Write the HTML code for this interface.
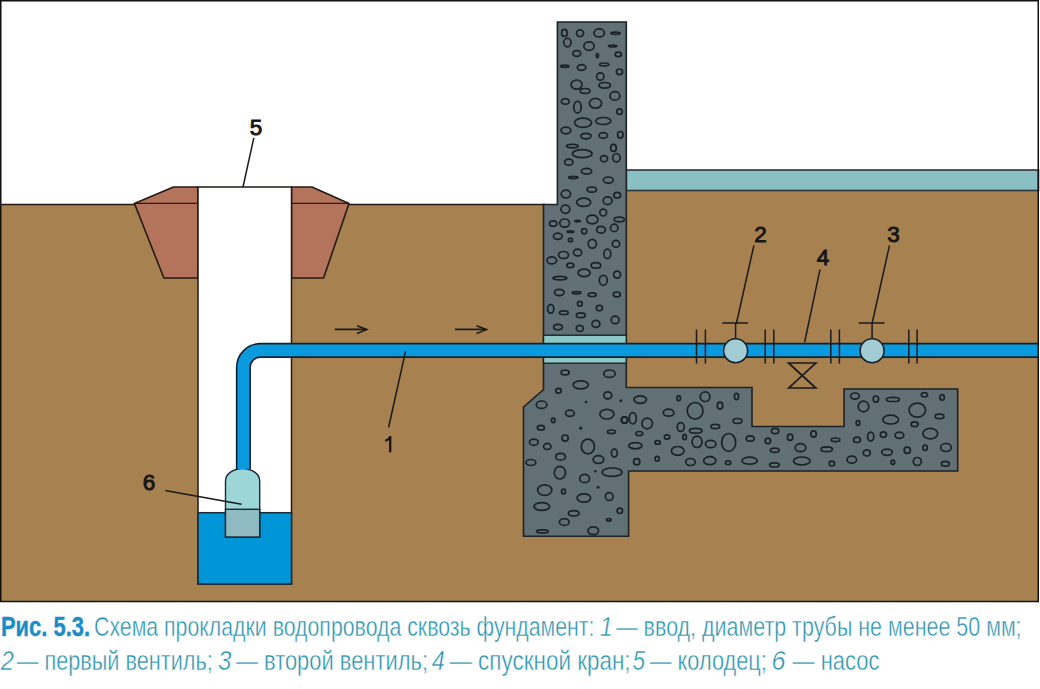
<!DOCTYPE html>
<html><head><meta charset="utf-8">
<style>
html,body{margin:0;padding:0;background:#fff;}
body{width:1040px;height:689px;overflow:hidden;}
svg{display:block;}
</style></head><body>
<svg width="1040" height="689" viewBox="0 0 1040 689">
<rect x="0" y="0" width="1040" height="689" fill="#fff"/>
<!-- ground -->
<polygon points="0,204.5 557.4,204.5 557.4,190.5 1038.5,190.5 1038.5,601.5 0,601.5" fill="#a78250"/>
<line x1="0" y1="204.5" x2="545" y2="204.5" stroke="#1f1a14" stroke-width="1.4"/>
<!-- floor slab -->
<rect x="626.3" y="170" width="412.2" height="20.5" fill="#8abfc3" stroke="#2a3438" stroke-width="1.6"/>
<!-- clay mound -->
<polygon points="173.5,187 198,187 198,278 163.9,278 134.4,203.4" fill="#b4745c" stroke="#231a16" stroke-width="1.6" stroke-linejoin="round"/>
<polygon points="291.5,187 312,187 349,203.4 323.6,278 291.5,278" fill="#b4745c" stroke="#231a16" stroke-width="1.6" stroke-linejoin="round"/>
<line x1="134.4" y1="203.4" x2="198" y2="203.4" stroke="#231a16" stroke-width="1.4"/>
<line x1="291.5" y1="203.4" x2="349" y2="203.4" stroke="#231a16" stroke-width="1.4"/>
<!-- well -->
<rect x="198" y="187" width="93.5" height="397" fill="#fff" stroke="#1f1a14" stroke-width="1.5"/>
<rect x="198" y="512.7" width="93.5" height="71.3" fill="#0095d6" stroke="#1a2a36" stroke-width="1.5"/>
<!-- pump -->
<path d="M225.5,537 L225.5,481 A17.1,12.5 0 0 1 259.7,481 L259.7,537 Z" fill="#9cd6d6" stroke="#1a2a36" stroke-width="1.4"/>
<rect x="225.5" y="509.3" width="34.2" height="27.7" fill="#8fbac2" stroke="#1a2a36" stroke-width="1.4"/>
<!-- concrete -->
<polygon points="557.4,22 626.3,22 626.3,387.5 752,387.5 752,426.5 844,426.5 844,389 957.7,389 957.7,471 628.6,471 628.6,536.3 523.5,536.3 523.5,407 543.5,389.7 543.5,204.5 557.4,204.5" fill="#617075" stroke="#1c2226" stroke-width="1.6" stroke-linejoin="miter"/>
<g fill="none" stroke="#1a2226" stroke-width="1.7">
<ellipse cx="564.4" cy="32.9" rx="2.80" ry="3.50"/>
<ellipse cx="580.0" cy="33.2" rx="3.50" ry="3.30"/>
<ellipse cx="599.2" cy="32.9" rx="5.20" ry="4.00"/>
<ellipse cx="615.5" cy="33.2" rx="4.60" ry="1.10"/>
<ellipse cx="567.4" cy="42.5" rx="3.70" ry="4.30"/>
<ellipse cx="589.0" cy="46.1" rx="5.20" ry="4.30"/>
<ellipse cx="612.7" cy="46.1" rx="4.20" ry="0.90"/>
<ellipse cx="576.8" cy="53.5" rx="4.00" ry="2.80"/>
<ellipse cx="597.4" cy="55.5" rx="1.10" ry="2.00"/>
<ellipse cx="618.3" cy="54.4" rx="3.10" ry="2.20"/>
<ellipse cx="564.8" cy="66.3" rx="4.20" ry="1.10"/>
<ellipse cx="581.6" cy="67.5" rx="4.30" ry="2.80"/>
<ellipse cx="604.2" cy="64.4" rx="4.60" ry="1.40"/>
<ellipse cx="619.5" cy="71.8" rx="3.10" ry="2.80"/>
<ellipse cx="600.3" cy="76.5" rx="3.70" ry="3.70"/>
<ellipse cx="576.6" cy="84.6" rx="5.50" ry="4.60"/>
<ellipse cx="585.1" cy="90.9" rx="4.90" ry="2.40"/>
<ellipse cx="604.7" cy="85.3" rx="5.70" ry="2.80"/>
<ellipse cx="614.9" cy="95.9" rx="5.00" ry="4.30"/>
<ellipse cx="565.3" cy="101.4" rx="4.00" ry="2.80"/>
<ellipse cx="577.5" cy="107.2" rx="3.70" ry="5.90"/>
<ellipse cx="595.5" cy="103.3" rx="6.10" ry="4.90"/>
<ellipse cx="619.5" cy="111.6" rx="2.80" ry="2.80"/>
<ellipse cx="583.0" cy="122.7" rx="8.50" ry="4.60"/>
<ellipse cx="603.3" cy="121.0" rx="7.60" ry="3.50"/>
<ellipse cx="565.9" cy="130.5" rx="4.90" ry="3.30"/>
<ellipse cx="585.9" cy="136.1" rx="5.20" ry="2.80"/>
<ellipse cx="603.3" cy="135.4" rx="4.20" ry="2.80"/>
<ellipse cx="620.3" cy="134.8" rx="2.80" ry="3.30"/>
<ellipse cx="572.4" cy="146.1" rx="5.90" ry="1.70"/>
<ellipse cx="582.2" cy="153.7" rx="9.80" ry="4.00"/>
<ellipse cx="613.5" cy="147.9" rx="2.80" ry="3.50"/>
<ellipse cx="604.0" cy="158.7" rx="3.50" ry="3.10"/>
<ellipse cx="616.4" cy="157.7" rx="3.70" ry="4.20"/>
<ellipse cx="568.8" cy="162.2" rx="4.20" ry="3.10"/>
<ellipse cx="586.5" cy="171.2" rx="5.20" ry="2.80"/>
<ellipse cx="573.3" cy="177.5" rx="4.60" ry="1.10"/>
<ellipse cx="608.3" cy="180.1" rx="4.90" ry="3.10"/>
<ellipse cx="591.8" cy="189.6" rx="4.70" ry="2.60"/>
<ellipse cx="565.9" cy="194.1" rx="4.70" ry="3.90"/>
<ellipse cx="583.7" cy="202.3" rx="7.10" ry="4.10"/>
<ellipse cx="617.2" cy="195.2" rx="3.40" ry="2.80"/>
<ellipse cx="607.6" cy="200.7" rx="4.40" ry="3.90"/>
<ellipse cx="565.4" cy="209.2" rx="4.40" ry="4.10"/>
<ellipse cx="603.2" cy="212.6" rx="3.40" ry="3.40"/>
<ellipse cx="553.2" cy="223.6" rx="3.70" ry="2.80"/>
<ellipse cx="564.6" cy="223.1" rx="4.90" ry="4.10"/>
<ellipse cx="577.6" cy="221.1" rx="2.80" ry="0.80"/>
<ellipse cx="592.3" cy="219.5" rx="5.70" ry="4.40"/>
<ellipse cx="619.2" cy="219.5" rx="5.10" ry="2.30"/>
<ellipse cx="570.5" cy="231.7" rx="3.40" ry="0.80"/>
<ellipse cx="584.2" cy="231.2" rx="2.60" ry="2.60"/>
<ellipse cx="601.0" cy="229.7" rx="4.40" ry="3.40"/>
<ellipse cx="614.2" cy="227.9" rx="3.70" ry="3.70"/>
<ellipse cx="557.8" cy="236.3" rx="4.40" ry="3.10"/>
<ellipse cx="570.5" cy="239.9" rx="2.00" ry="1.80"/>
<ellipse cx="592.3" cy="243.7" rx="4.10" ry="4.40"/>
<ellipse cx="616.0" cy="243.7" rx="3.70" ry="3.40"/>
<ellipse cx="563.5" cy="255.0" rx="5.00" ry="3.50"/>
<ellipse cx="577.6" cy="252.5" rx="4.10" ry="3.40"/>
<ellipse cx="607.3" cy="253.9" rx="3.50" ry="4.80"/>
<ellipse cx="551.8" cy="260.4" rx="4.80" ry="3.50"/>
<ellipse cx="570.3" cy="265.4" rx="3.50" ry="2.20"/>
<ellipse cx="595.9" cy="265.4" rx="4.80" ry="2.70"/>
<ellipse cx="584.1" cy="272.9" rx="6.10" ry="3.70"/>
<ellipse cx="559.9" cy="278.1" rx="7.00" ry="1.80"/>
<ellipse cx="603.3" cy="280.3" rx="4.00" ry="5.00"/>
<ellipse cx="617.1" cy="274.6" rx="3.50" ry="3.50"/>
<ellipse cx="559.3" cy="292.5" rx="4.80" ry="3.10"/>
<ellipse cx="576.6" cy="292.8" rx="4.40" ry="1.10"/>
<ellipse cx="592.2" cy="294.7" rx="4.00" ry="1.80"/>
<ellipse cx="616.8" cy="294.4" rx="3.50" ry="2.40"/>
<ellipse cx="550.7" cy="308.8" rx="3.10" ry="4.40"/>
<ellipse cx="563.8" cy="312.7" rx="4.40" ry="1.80"/>
<ellipse cx="579.8" cy="303.8" rx="2.40" ry="2.40"/>
<ellipse cx="599.4" cy="308.1" rx="3.10" ry="2.70"/>
<ellipse cx="580.8" cy="315.3" rx="4.40" ry="2.40"/>
<ellipse cx="615.1" cy="319.9" rx="4.00" ry="3.70"/>
<ellipse cx="558.0" cy="327.1" rx="4.40" ry="2.70"/>
<ellipse cx="579.8" cy="328.4" rx="3.50" ry="3.10"/>
<ellipse cx="595.9" cy="323.8" rx="4.00" ry="3.50"/>
<ellipse cx="565.1" cy="372.4" rx="4.00" ry="2.40"/>
<ellipse cx="609.5" cy="373.7" rx="5.70" ry="3.70"/>
<ellipse cx="580.7" cy="384.8" rx="7.60" ry="4.00"/>
<ellipse cx="558.5" cy="390.7" rx="2.70" ry="2.40"/>
<ellipse cx="607.8" cy="395.3" rx="4.00" ry="3.50"/>
<circle cx="586.0" cy="402.1" r="1.3" fill="#1e262a" stroke="none"/>
<circle cx="620.8" cy="400.8" r="1.5" fill="#1e262a" stroke="none"/>
<ellipse cx="541.6" cy="404.7" rx="5.30" ry="3.70"/>
<ellipse cx="569.9" cy="413.3" rx="4.40" ry="3.10"/>
<ellipse cx="606.9" cy="414.2" rx="7.00" ry="4.80"/>
<ellipse cx="553.3" cy="420.4" rx="1.80" ry="2.20"/>
<ellipse cx="624.5" cy="420.1" rx="3.10" ry="3.10"/>
<ellipse cx="540.9" cy="427.7" rx="3.50" ry="2.40"/>
<circle cx="580.7" cy="428.2" r="1.6" fill="#1e262a" stroke="none"/>
<ellipse cx="611.4" cy="431.8" rx="4.00" ry="1.80"/>
<ellipse cx="565.1" cy="438.1" rx="3.10" ry="3.10"/>
<ellipse cx="587.9" cy="446.5" rx="6.60" ry="7.30"/>
<ellipse cx="533.8" cy="442.2" rx="4.40" ry="3.10"/>
<ellipse cx="547.3" cy="446.5" rx="3.70" ry="3.10"/>
<ellipse cx="614.3" cy="453.1" rx="3.00" ry="3.90"/>
<ellipse cx="560.6" cy="456.7" rx="4.90" ry="3.40"/>
<ellipse cx="530.9" cy="462.5" rx="4.90" ry="3.00"/>
<ellipse cx="598.4" cy="459.6" rx="5.30" ry="3.90"/>
<ellipse cx="559.9" cy="472.7" rx="5.60" ry="6.30"/>
<circle cx="595.5" cy="471.2" r="1.3" fill="#1e262a" stroke="none"/>
<ellipse cx="612.1" cy="472.2" rx="10.00" ry="4.20"/>
<ellipse cx="584.6" cy="478.5" rx="4.90" ry="4.20"/>
<ellipse cx="544.7" cy="490.1" rx="7.10" ry="5.30"/>
<ellipse cx="563.5" cy="491.5" rx="2.00" ry="2.40"/>
<circle cx="598.1" cy="487.2" r="1.5" fill="#1e262a" stroke="none"/>
<ellipse cx="583.9" cy="498.0" rx="6.80" ry="4.20"/>
<ellipse cx="609.2" cy="496.6" rx="3.90" ry="3.90"/>
<ellipse cx="541.8" cy="506.5" rx="7.80" ry="3.90"/>
<ellipse cx="619.8" cy="510.8" rx="2.70" ry="2.70"/>
<ellipse cx="573.7" cy="513.3" rx="5.30" ry="2.70"/>
<ellipse cx="608.8" cy="519.8" rx="2.40" ry="1.30"/>
<ellipse cx="564.3" cy="522.0" rx="4.90" ry="3.40"/>
<ellipse cx="542.5" cy="531.4" rx="5.90" ry="1.50"/>
<ellipse cx="593.3" cy="530.7" rx="5.30" ry="3.90"/>
<ellipse cx="640.2" cy="399.6" rx="6.30" ry="3.70"/>
<ellipse cx="678.7" cy="398.3" rx="1.80" ry="2.40"/>
<ellipse cx="705.1" cy="396.7" rx="4.80" ry="4.80"/>
<ellipse cx="695.1" cy="410.8" rx="7.90" ry="8.30"/>
<ellipse cx="668.6" cy="412.7" rx="5.30" ry="3.50"/>
<ellipse cx="624.6" cy="420.0" rx="3.10" ry="3.10"/>
<ellipse cx="632.8" cy="418.3" rx="3.50" ry="5.70"/>
<ellipse cx="647.2" cy="423.5" rx="5.30" ry="5.30"/>
<ellipse cx="680.7" cy="427.0" rx="3.50" ry="4.40"/>
<ellipse cx="695.7" cy="430.7" rx="6.30" ry="2.40"/>
<ellipse cx="715.3" cy="426.5" rx="4.40" ry="2.10"/>
<ellipse cx="639.3" cy="433.6" rx="3.50" ry="2.10"/>
<ellipse cx="667.0" cy="437.0" rx="2.70" ry="2.10"/>
<ellipse cx="684.6" cy="437.0" rx="1.80" ry="2.70"/>
<ellipse cx="697.0" cy="441.8" rx="5.00" ry="5.70"/>
<ellipse cx="710.7" cy="444.0" rx="5.30" ry="3.70"/>
<ellipse cx="635.4" cy="445.7" rx="6.60" ry="3.10"/>
<ellipse cx="657.6" cy="442.4" rx="2.70" ry="1.80"/>
<ellipse cx="677.7" cy="450.9" rx="6.30" ry="4.40"/>
<ellipse cx="636.7" cy="461.8" rx="3.10" ry="3.10"/>
<ellipse cx="657.2" cy="458.8" rx="2.10" ry="2.40"/>
<ellipse cx="690.5" cy="462.0" rx="4.80" ry="3.50"/>
<ellipse cx="709.8" cy="460.7" rx="6.10" ry="4.00"/>
<ellipse cx="720.0" cy="405.6" rx="2.70" ry="3.50"/>
<ellipse cx="736.5" cy="396.5" rx="2.10" ry="3.10"/>
<ellipse cx="737.5" cy="420.9" rx="4.40" ry="2.40"/>
<ellipse cx="728.7" cy="442.4" rx="7.00" ry="8.90"/>
<ellipse cx="750.2" cy="438.5" rx="4.00" ry="2.70"/>
<ellipse cx="767.9" cy="440.9" rx="2.70" ry="2.70"/>
<ellipse cx="775.1" cy="431.0" rx="3.70" ry="2.70"/>
<ellipse cx="790.1" cy="437.2" rx="2.70" ry="3.10"/>
<ellipse cx="813.6" cy="434.0" rx="2.70" ry="3.10"/>
<ellipse cx="774.8" cy="450.3" rx="4.40" ry="2.10"/>
<ellipse cx="800.5" cy="447.7" rx="5.30" ry="4.00"/>
<ellipse cx="749.6" cy="460.7" rx="7.60" ry="3.50"/>
<ellipse cx="728.1" cy="462.7" rx="2.70" ry="1.80"/>
<ellipse cx="774.4" cy="464.9" rx="4.80" ry="2.10"/>
<ellipse cx="801.8" cy="461.0" rx="8.30" ry="4.00"/>
<ellipse cx="855.0" cy="396.1" rx="4.40" ry="3.10"/>
<ellipse cx="875.9" cy="399.1" rx="2.70" ry="3.10"/>
<ellipse cx="892.9" cy="399.4" rx="6.60" ry="2.10"/>
<ellipse cx="863.5" cy="406.5" rx="5.30" ry="5.30"/>
<ellipse cx="890.7" cy="419.6" rx="7.90" ry="4.40"/>
<ellipse cx="858.0" cy="422.9" rx="1.80" ry="2.40"/>
<ellipse cx="835.5" cy="439.8" rx="4.40" ry="1.80"/>
<ellipse cx="857.0" cy="439.8" rx="3.50" ry="2.70"/>
<ellipse cx="870.7" cy="436.6" rx="3.10" ry="4.40"/>
<ellipse cx="883.4" cy="434.6" rx="3.10" ry="2.70"/>
<ellipse cx="899.4" cy="435.3" rx="4.40" ry="3.10"/>
<ellipse cx="826.7" cy="449.2" rx="5.70" ry="2.40"/>
<ellipse cx="866.8" cy="452.9" rx="3.50" ry="3.10"/>
<ellipse cx="887.0" cy="452.2" rx="5.30" ry="3.10"/>
<ellipse cx="907.3" cy="450.3" rx="3.10" ry="3.10"/>
<ellipse cx="851.8" cy="459.7" rx="4.80" ry="3.50"/>
<ellipse cx="831.9" cy="463.6" rx="2.70" ry="2.40"/>
<ellipse cx="892.9" cy="462.3" rx="1.80" ry="2.10"/>
<ellipse cx="917.3" cy="410.1" rx="8.30" ry="7.00"/>
<ellipse cx="924.4" cy="394.8" rx="3.10" ry="2.20"/>
<ellipse cx="942.1" cy="397.4" rx="2.20" ry="2.70"/>
<ellipse cx="939.5" cy="416.4" rx="4.40" ry="2.20"/>
<ellipse cx="914.6" cy="424.2" rx="3.50" ry="2.40"/>
<ellipse cx="930.3" cy="433.6" rx="7.40" ry="5.30"/>
<ellipse cx="925.1" cy="447.7" rx="2.20" ry="2.70"/>
<ellipse cx="946.0" cy="447.5" rx="5.30" ry="4.00"/>
<ellipse cx="917.3" cy="461.5" rx="4.00" ry="4.00"/>
<ellipse cx="945.4" cy="463.7" rx="4.00" ry="2.40"/>
</g>
<!-- sleeve -->
<rect x="543.5" y="335.2" width="82.8" height="28" fill="#8cc8c4" stroke="#1c2226" stroke-width="1.4"/>
<!-- pipe -->
<path d="M243.4,469 L243.4,367.4 A17,17 0 0 1 260.4,350.4 L1038,350.4" fill="none" stroke="#14202c" stroke-width="15.1"/>
<path d="M243.4,469 L243.4,367.4 A17,17 0 0 1 260.4,350.4 L1038,350.4" fill="none" stroke="#0a9ade" stroke-width="11.9"/>
<!-- valves -->
<g stroke="#1a1a1a" stroke-width="1.5" fill="none">
<line x1="696.5" y1="329.5" x2="696.5" y2="363.6"/>
<line x1="705.4" y1="329.5" x2="705.4" y2="363.6"/>
<line x1="765.2" y1="329.5" x2="765.2" y2="363.6"/>
<line x1="773.8" y1="329.5" x2="773.8" y2="363.6"/>
<line x1="830.8" y1="329.5" x2="830.8" y2="363.6"/>
<line x1="839.4" y1="329.5" x2="839.4" y2="363.6"/>
<line x1="908.8" y1="329.5" x2="908.8" y2="363.6"/>
<line x1="917.1" y1="329.5" x2="917.1" y2="363.6"/>
<line x1="735.6" y1="323" x2="735.6" y2="339"/>
<line x1="722.3" y1="323" x2="748" y2="323"/>
<line x1="872.1" y1="323" x2="872.1" y2="339"/>
<line x1="858.7" y1="323" x2="884.6" y2="323"/>
<path d="M788.6,363 L815.8,363 L788.8,388 L815.8,388 Z" stroke-width="1.7"/>
<!-- leaders -->
<line x1="253.8" y1="137.8" x2="243" y2="187"/>
<line x1="753.9" y1="245.3" x2="736.5" y2="323"/>
<line x1="889.5" y1="245.3" x2="872.2" y2="323"/>
<line x1="820" y1="269.3" x2="804.6" y2="342.3"/>
<line x1="405.5" y1="351.4" x2="388.6" y2="427.5"/>
<line x1="165.3" y1="490.4" x2="241.5" y2="504.2"/>
<!-- arrows -->
<line x1="334.8" y1="329.4" x2="366.5" y2="329.4" stroke-width="1.7"/>
<polyline points="357,325.7 366.8,329.6 357,333.5"/>
<line x1="455" y1="329.4" x2="486.2" y2="329.4" stroke-width="1.7"/>
<polyline points="476.5,325.7 486.5,329.6 476.5,333.5"/>
</g>
<circle cx="735.6" cy="350.7" r="12" fill="#a2ccd4" stroke="#14202c" stroke-width="1.6"/>
<circle cx="872.1" cy="350.7" r="12" fill="#a2ccd4" stroke="#14202c" stroke-width="1.6"/>
<!-- labels -->
<g font-family="Liberation Sans, sans-serif" font-size="22.5" fill="#151515" stroke="#151515" stroke-width="0.9" text-anchor="middle">
<text x="256" y="135">5</text>
<text x="149" y="490">6</text>
<text x="760.5" y="242.3">2</text>
<text x="823" y="264.6">4</text>
<text x="893.4" y="242.3">3</text>
</g>
<path d="M390.2,452.2 L390.2,436 M390.6,436.6 Q388.5,440 385.2,441" fill="none" stroke="#151515" stroke-width="2.3"/>
<!-- frame -->
<rect x="0.75" y="0.75" width="1037.5" height="600.75" fill="none" stroke="#111" stroke-width="1.5"/>
<!-- caption -->
<g font-family="Liberation Sans, sans-serif" font-size="28" stroke="#fff" stroke-width="0.45">
<text x="1" y="635.5" font-weight="bold" fill="#1a8ec4" stroke="#1a8ec4" stroke-width="0.4" textLength="89" lengthAdjust="spacingAndGlyphs">Рис. 5.3.</text>
<text x="94" y="635.5" fill="#2892ae" textLength="500.5" lengthAdjust="spacingAndGlyphs">Схема прокладки водопровода сквозь фундамент:</text>
<text x="600" y="635.5" fill="#2892ae" font-style="italic" textLength="12.5" lengthAdjust="spacingAndGlyphs">1</text>
<text x="616.2" y="635.5" fill="#2892ae" textLength="405.4" lengthAdjust="spacingAndGlyphs">— ввод, диаметр трубы не менее 50 мм;</text>
<text x="0.8" y="669.8" fill="#2892ae" font-style="italic" textLength="13.2" lengthAdjust="spacingAndGlyphs">2</text>
<text x="16.8" y="669.8" fill="#2892ae" textLength="195.9" lengthAdjust="spacingAndGlyphs">— первый вентиль;</text>
<text x="218" y="669.8" fill="#2892ae" font-style="italic" textLength="13.4" lengthAdjust="spacingAndGlyphs">3</text>
<text x="236" y="669.8" fill="#2892ae" textLength="192" lengthAdjust="spacingAndGlyphs">— второй вентиль;</text>
<text x="431.8" y="669.8" fill="#2892ae" font-style="italic" textLength="13" lengthAdjust="spacingAndGlyphs">4</text>
<text x="449.4" y="669.8" fill="#2892ae" textLength="181.2" lengthAdjust="spacingAndGlyphs">— спускной кран;</text>
<text x="632.6" y="669.8" fill="#2892ae" font-style="italic" textLength="12.6" lengthAdjust="spacingAndGlyphs">5</text>
<text x="649.8" y="669.8" fill="#2892ae" textLength="117" lengthAdjust="spacingAndGlyphs">— колодец;</text>
<text x="771.6" y="669.8" fill="#2892ae" font-style="italic" textLength="14" lengthAdjust="spacingAndGlyphs">6</text>
<text x="792.6" y="669.8" fill="#2892ae" textLength="87" lengthAdjust="spacingAndGlyphs">— насос</text>
</g>
</svg>
</body></html>
